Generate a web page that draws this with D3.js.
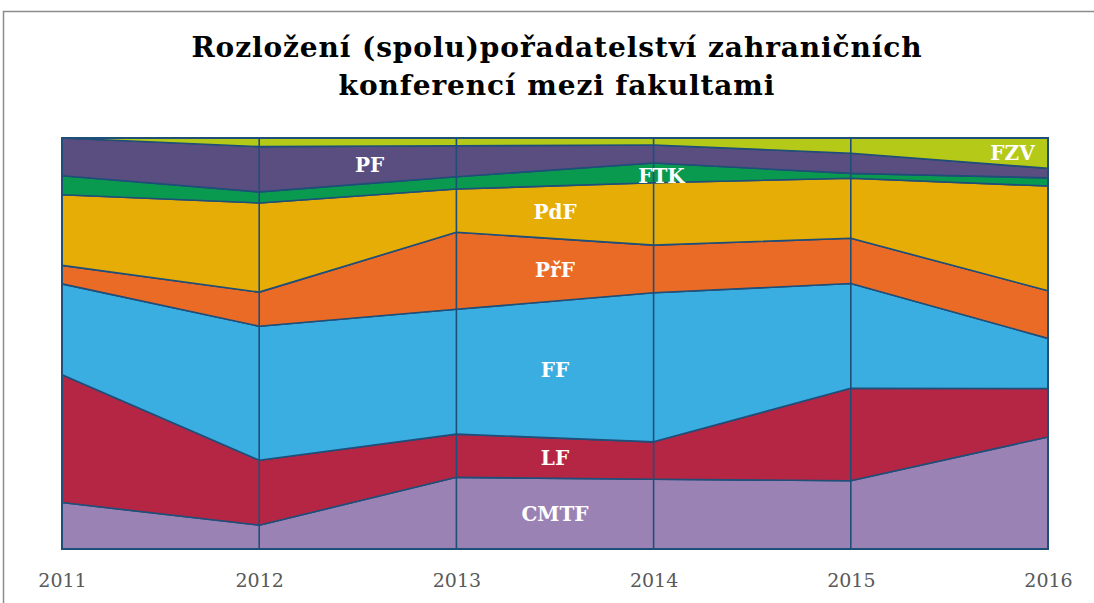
<!DOCTYPE html>
<html><head><meta charset="utf-8">
<script src="https://cdn.jsdelivr.net/npm/d3@7"></script>
<style>body{margin:0;background:#fff;}svg{display:block;}</style>
</head><body>
<script>
const years = ["2011","2012","2013","2014","2015","2016"];
const faculties = ["CMTF","LF","FF","PřF","PdF","FTK","PF","FZV"];
const CMTF = [11.3, 5.8, 17.4, 17.0, 16.6, 27.3];
const LF   = [31.1, 15.8, 10.5, 9.1, 22.5, 11.8];
const FF   = [22.1, 32.6, 30.3, 36.3, 25.5, 12.2];
const PrF  = [4.5, 8.3, 18.7, 11.6, 11.0, 11.6];
const PdF  = [17.2, 21.7, 10.5, 15.2, 14.6, 25.5];
const FTK  = [4.6, 2.7, 3.0, 4.8, 1.2, 2.0];
const PF   = [9.2, 11.0, 7.5, 4.4, 4.9, 2.3];
const FZV  = [0.0, 2.1, 1.9, 1.7, 3.7, 7.4];
const seriesValues = [CMTF, LF, FF, PrF, PdF, FTK, PF, FZV];
const colors = ["#9b82b5","#b52645","#3aaee0","#ea6b25","#e6ad06","#0a9a4f","#5a4e80","#b5c918"];
const labelAt = {"CMTF":2.5,"LF":2.5,"FF":2.5,"PřF":2.5,"PdF":2.5,"FTK":3.04,"PF":1.56,"FZV":4.82};

(function(){
const W = 1094, H = 603;
const svg = d3.select("body").append("svg").attr("width", W).attr("height", H);
svg.append("rect").attr("x",3.5).attr("y",11.5).attr("width",W).attr("height",H).attr("fill","#fff").attr("stroke","#8c8c8c").attr("stroke-width",1.5);

const mL = 62, mR = 1048, mT = 138, mB = 549;
const x = d3.scalePoint().domain(years).range([mL, mR]);
const y = d3.scaleLinear().domain([0, 100]).range([mB, mT]);

const table = years.map((yr, i) => {
  const row = {year: yr};
  const tot = d3.sum(seriesValues, s => s[i]);
  faculties.forEach((f, k) => row[f] = seriesValues[k][i] / tot * 100);
  return row;
});
const stack = d3.stack().keys(faculties)(table);

const area = d3.area().x(d => x(d.data.year)).y0(d => y(d[0])).y1(d => y(d[1]));
svg.append("g").selectAll("path").data(stack).join("path")
  .attr("d", area).attr("fill", (d, i) => colors[i])
  .attr("stroke", "#1f4e79").attr("stroke-width", 1.6).attr("stroke-linejoin","round");

svg.append("g").selectAll("line").data(years).join("line")
  .attr("x1", d => x(d)).attr("x2", d => x(d)).attr("y1", mT).attr("y2", mB)
  .attr("stroke", "#1f4e79").attr("stroke-width", 1.6);
svg.append("rect").attr("x", mL).attr("y", mT).attr("width", mR-mL).attr("height", mB-mT)
  .attr("fill","none").attr("stroke","#1f4e79").attr("stroke-width",2);

const xAxis = d3.axisBottom(x).tickSize(0).tickPadding(0);
const ax = svg.append("g").attr("transform", `translate(0,${mB})`).call(xAxis);
ax.select(".domain").remove();
ax.selectAll("text").attr("dy", null).attr("y", 38)
  .style("font-family","Georgia, 'DejaVu Serif', serif").style("font-size","19px").attr("fill","#595959");

function interp(layer, t) {
  const i0 = Math.floor(t), i1 = Math.min(i0+1, years.length-1), f = t - i0;
  const a = layer[i0], b = layer[i1];
  return [a[0] + (b[0]-a[0])*f, a[1] + (b[1]-a[1])*f];
}
const xl = d3.scaleLinear().domain([0, years.length-1]).range([mL, mR]);
const labelShift = {"FTK": 3, "PF": 0, "FZV": 1};
stack.forEach((layer) => {
  const f = layer.key, t = labelAt[f];
  const [lo, hi] = interp(layer, t);
  svg.append("text").attr("x", xl(t)).attr("y", y((lo+hi)/2) + (labelShift[f]||0))
    .attr("text-anchor","middle").attr("dominant-baseline","central")
    .style("font-family","Georgia, 'DejaVu Serif', serif").style("font-weight","bold").style("font-size","20px")
    .attr("fill","#fff").text(f);
});

const title = svg.append("text").attr("text-anchor","middle")
  .style("font-family","Georgia, 'DejaVu Serif', serif").style("font-weight","bold").style("font-size","28px")
  .style("letter-spacing","0.9px").attr("fill","#000");
title.append("tspan").attr("x", 557).attr("y", 57).text("Rozložení (spolu)pořadatelství zahraničních");
title.append("tspan").attr("x", 557).attr("y", 95).text("konferencí mezi fakultami");
})();
</script>
</body></html>
